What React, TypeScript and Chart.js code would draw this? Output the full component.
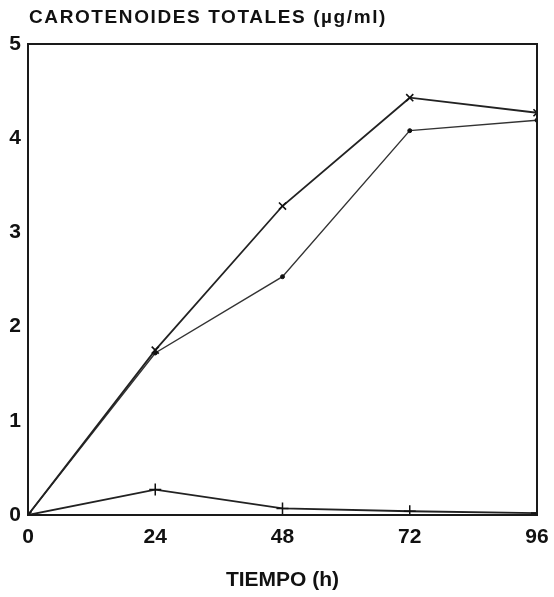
import React, { useEffect, useRef } from "react";
import { Chart, registerables } from "chart.js";

Chart.register(...registerables);

const tiempo = [0, 24, 48, 72, 96];
const serieX = [0, 1.75, 3.28, 4.43, 4.27];
const seriePunto = [0, 1.72, 2.53, 4.08, 4.19];
const serieCruz = [0, 0.27, 0.07, 0.04, 0.02];
const yTicks = [0, 1, 2, 3, 4, 5];
const xTicks = [0, 24, 48, 72, 96];
const yTitle = "CAROTENOIDES TOTALES (\u00b5g/ml)";
const xTitle = "TIEMPO (h)";

const FONT = "'Liberation Sans', Arial, Helvetica, sans-serif";

const toPoints = (ys: number[]) => tiempo.map((x, i) => ({ x, y: ys[i] }));

export default function App() {
  const ref = useRef<HTMLCanvasElement | null>(null);

  useEffect(() => {
    if (!ref.current) return;
    const framePlugin = {
      id: "frame",
      afterDraw(chart: any) {
        const { ctx, chartArea } = chart;
        ctx.save();
        ctx.strokeStyle = "#1a1a1a";
        ctx.lineWidth = 2;
        ctx.strokeRect(chartArea.left, chartArea.top, chartArea.right - chartArea.left, chartArea.bottom - chartArea.top);
        ctx.fillStyle = "#111";
        ctx.font = `bold 19px ${FONT}`;
        (ctx as any).letterSpacing = "1.6px";
        ctx.textAlign = "left";
        ctx.textBaseline = "middle";
        ctx.fillText(yTitle, chartArea.left + 1, chartArea.top - 26);
        ctx.restore();
      },
    };
    const common = {
      borderColor: "#222",
      backgroundColor: "#222",
      pointBorderColor: "#111",
      pointBackgroundColor: "#111",
      fill: false,
      tension: 0,
    };
    const chart = new Chart(ref.current, {
      type: "line",
      data: {
        datasets: [
          { ...common, label: "A", data: toPoints(serieX), borderWidth: 1.8, pointStyle: "crossRot", pointRadius: 5, pointBorderWidth: 1.6 },
          { ...common, label: "B", data: toPoints(seriePunto), borderWidth: 1.4, borderColor: "#333", pointStyle: "circle", pointRadius: 2, pointBorderWidth: 1 },
          { ...common, label: "C", data: toPoints(serieCruz), borderWidth: 1.8, pointStyle: "cross", pointRadius: 6, pointBorderWidth: 1.5 },
        ],
      },
      options: {
        responsive: false,
        animation: false,
        layout: { autoPadding: false, padding: { top: 44, right: 17, left: 0, bottom: 0 } },
        plugins: { legend: { display: false }, tooltip: { enabled: false }, title: { display: false } },
        scales: {
          x: {
            type: "linear",
            min: 0,
            max: 96,
            afterBuildTicks: (s: any) => { s.ticks = xTicks.map((v) => ({ value: v })); },
            afterFit: (s: any) => { s.height = 82; s.paddingRight = 0; s.paddingLeft = 0; },
            grid: { display: false, drawTicks: false },
            border: { display: false },
            ticks: { color: "#111", font: { family: FONT, size: 21, weight: "bold" }, padding: 10, maxRotation: 0, autoSkip: false },
            title: { display: true, text: xTitle, color: "#111", font: { family: FONT, size: 21, weight: "bold" }, padding: { top: 0, bottom: 4 } },
          },
          y: {
            type: "linear",
            min: 0,
            max: 5,
            afterBuildTicks: (s: any) => { s.ticks = yTicks.map((v) => ({ value: v })); },
            afterFit: (s: any) => { s.width = 28; s.paddingTop = 0; s.paddingBottom = 0; },
            grid: { display: false, drawTicks: false },
            border: { display: false },
            ticks: { color: "#111", font: { family: FONT, size: 21, weight: "bold" }, padding: 7 },
          },
        },
      },
      plugins: [framePlugin],
    } as any);
    return () => chart.destroy();
  }, []);

  return (
    <div style={{ position: "fixed", left: 0, top: 0, width: 554, height: 597, background: "#fff" }}>
      <canvas ref={ref} width={554} height={597} style={{ display: "block" }} />
    </div>
  );
}
